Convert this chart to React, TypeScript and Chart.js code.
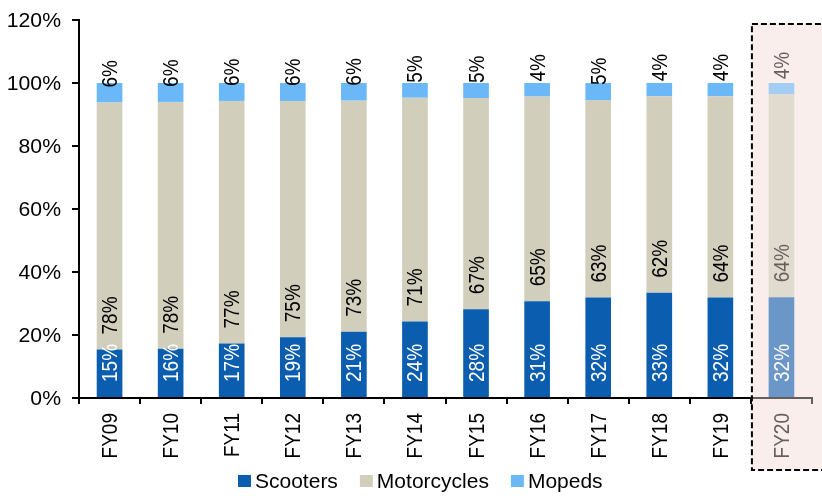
import React, { useEffect, useRef } from "react";
import { Chart, registerables } from "chart.js";

Chart.register(...registerables);

const categories = ["FY09", "FY10", "FY11", "FY12", "FY13", "FY14", "FY15", "FY16", "FY17", "FY18", "FY19", "FY20"];
const scooters = [15.4, 15.6, 17.3, 19.3, 21.0, 24.3, 28.2, 30.7, 31.9, 33.4, 31.9, 32.0];
const motorcycles = [78.4, 78.4, 77.0, 75.0, 73.4, 71.0, 67.0, 65.0, 62.7, 62.4, 63.9, 64.4];
const mopeds = [6.2, 6.0, 5.7, 5.7, 5.6, 4.7, 4.8, 4.3, 5.4, 4.2, 4.2, 3.6];
const yTicks = [0, 20, 40, 60, 80, 100, 120];
const seriesNames = ["Scooters", "Motorcycles", "Mopeds"];
const seriesColors = ["#0b5eaf", "#d1cebc", "#6ab8f7"];
const labelColors = ["#ffffff", "#000000", "#000000"];
const highlightIndex = 11;

const FONT = '"Liberation Sans", Arial, sans-serif';

export default function App() {
  const ref = useRef<HTMLCanvasElement | null>(null);

  useEffect(() => {
    const canvas = ref.current;
    if (!canvas) return;

    const boxRect = (chart: any) => {
      const xs = chart.scales.x;
      const left = (xs.getPixelForValue(highlightIndex - 1) + xs.getPixelForValue(highlightIndex)) / 2 + 1;
      return { left, top: 24, right: chart.width + 10, bottom: 470 };
    };

    const highlightPlugin = {
      id: "highlight",
      beforeDraw(chart: any) {
        const ctx = chart.ctx;
        const r = boxRect(chart);
        ctx.save();
        ctx.fillStyle = "#f9eeeb";
        ctx.fillRect(r.left, r.top, r.right - r.left, r.bottom - r.top);
        ctx.restore();
      },
      afterDraw(chart: any) {
        const ctx = chart.ctx;
        const r = boxRect(chart);
        ctx.save();
        ctx.fillStyle = "rgba(249,238,235,0.4)";
        ctx.fillRect(r.left, r.top, r.right - r.left, r.bottom - r.top);
        ctx.strokeStyle = "#000";
        ctx.lineWidth = 2;
        ctx.setLineDash([6, 3]);
        ctx.strokeRect(r.left, r.top, r.right - r.left, r.bottom - r.top);
        ctx.restore();
      },
    };

    const axisTextPlugin = {
      id: "axisText",
      afterDraw(chart: any) {
        const ctx = chart.ctx;
        const xs = chart.scales.x;
        const ys = chart.scales.y;
        ctx.save();
        ctx.fillStyle = "#000";
        ctx.font = `20px ${FONT}`;
        ctx.textAlign = "right";
        ctx.textBaseline = "middle";
        yTicks.forEach((v) => {
          const y = ys.getPixelForValue(v);
          ctx.save();
          ctx.translate(61, y + 1);
          ctx.scale(1.06, 1);
          ctx.fillText(v + "%", 0, 0);
          ctx.restore();
        });
        ctx.font = `19px ${FONT}`;
        ctx.textAlign = "right";
        ctx.textBaseline = "middle";
        categories.forEach((c, i) => {
          const x = xs.getPixelForValue(i);
          ctx.save();
          ctx.translate(x, xs.top + 15);
          ctx.scale(1.2, 1);
          ctx.rotate(-Math.PI / 2);
          ctx.fillText(c, 0, 1);
          ctx.restore();
        });
        ctx.restore();
      },
    };

    const labelPlugin = {
      id: "segLabels",
      afterDatasetsDraw(chart: any) {
        const ctx = chart.ctx;
        ctx.save();
        ctx.font = `19px ${FONT}`;
        ctx.textAlign = "left";
        ctx.textBaseline = "middle";
        chart.data.datasets.forEach((ds: any, di: number) => {
          const meta = chart.getDatasetMeta(di);
          meta.data.forEach((el: any, i: number) => {
            const v = ds.data[i];
            const text = Math.round(v) + "%";
            ctx.save();
            ctx.translate(el.x, el.base - 15);
            ctx.scale(1.2, 1);
            ctx.rotate(-Math.PI / 2);
            ctx.fillStyle = labelColors[di];
            ctx.fillText(text, 0, 1);
            ctx.restore();
          });
        });
        ctx.restore();
      },
    };

    const legendPlugin = {
      id: "customLegend",
      afterDraw(chart: any) {
        const ctx = chart.ctx;
        ctx.save();
        ctx.font = `21px ${FONT}`;
        ctx.textBaseline = "middle";
        ctx.textAlign = "left";
        let x = 238;
        const yc = 481;
        seriesNames.forEach((name, i) => {
          ctx.fillStyle = seriesColors[i];
          ctx.fillRect(x, yc - 6, 13, 12);
          ctx.fillStyle = "#000";
          ctx.fillText(name, x + 17, yc + 1);
          x += 17 + ctx.measureText(name).width + 22;
        });
        ctx.restore();
      },
    };

    const chart = new Chart(canvas, {
      type: "bar",
      data: {
        labels: categories,
        datasets: [
          { label: seriesNames[0], data: scooters, backgroundColor: seriesColors[0] },
          { label: seriesNames[1], data: motorcycles, backgroundColor: seriesColors[1] },
          { label: seriesNames[2], data: mopeds, backgroundColor: seriesColors[2] },
        ].map((d) => ({ ...d, borderWidth: 0, barPercentage: 0.42, categoryPercentage: 1 })),
      },
      options: {
        animation: false,
        responsive: false,
        maintainAspectRatio: false,
        devicePixelRatio: 1,
        layout: { padding: { top: 20, right: 10, left: 0, bottom: 0 } },
        plugins: { legend: { display: false }, tooltip: { enabled: false } },
        scales: {
          x: {
            stacked: true,
            grid: {
              display: true,
              drawOnChartArea: false,
              drawTicks: true,
              tickLength: 6,
              offset: true,
              color: "#000",
              lineWidth: 2,
            },
            border: { display: true, color: "#000", width: 2 },
            ticks: { display: false },
            afterFit(scale: any) {
              scale.height = 98;
            },
          },
          y: {
            stacked: true,
            min: 0,
            max: 120,
            afterBuildTicks(scale: any) {
              scale.ticks = yTicks.map((v) => ({ value: v }));
            },
            grid: {
              display: true,
              drawOnChartArea: false,
              drawTicks: true,
              tickLength: 7,
              color: "#000",
              lineWidth: 2,
            },
            border: { display: true, color: "#000", width: 2 },
            ticks: { display: false },
            afterFit(scale: any) {
              scale.width = 79;
            },
          },
        },
      },
      plugins: [labelPlugin, axisTextPlugin, legendPlugin, highlightPlugin],
    } as any);

    return () => chart.destroy();
  }, []);

  return (
    <div style={{ position: "fixed", left: 0, top: 0, width: 822, height: 496, background: "#fff" }}>
      <canvas ref={ref} width={822} height={496} style={{ width: 822, height: 496, display: "block" }} />
    </div>
  );
}
